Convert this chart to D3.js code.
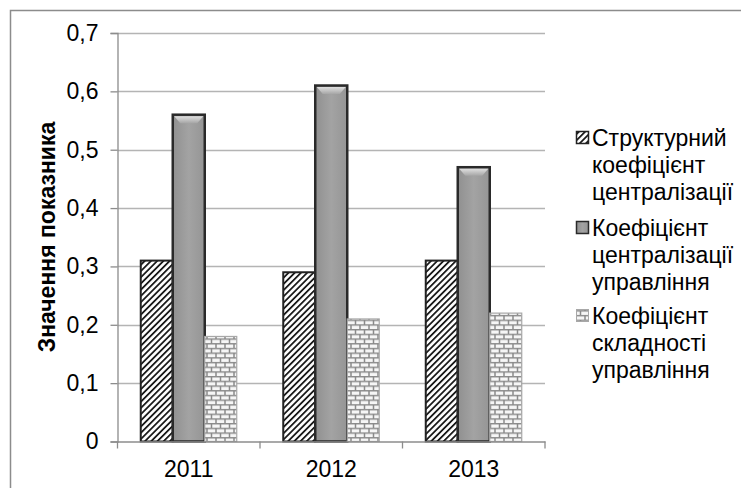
<!DOCTYPE html>
<html><head><meta charset="utf-8">
<script src="https://cdn.jsdelivr.net/npm/d3@7"></script>
<style>
html,body{margin:0;padding:0;background:#fff;}
svg{display:block;font-family:"Liberation Sans",Arial,sans-serif;}
</style></head>
<body>
<svg id="chart" width="741" height="488"></svg>
<script>
const categories = ["2011", "2012", "2013"];
const seriesNames = [
  ["Структурний", "коефіцієнт", "централізації"],
  ["Коефіцієнт", "централізації", "управління"],
  ["Коефіцієнт", "складності", "управління"]
];
const structuralCoef = [0.31, 0.29, 0.31];
const centralizationCoef = [0.56, 0.61, 0.47];
const complexityCoef = [0.18, 0.21, 0.22];
const yTicks = [0, 0.1, 0.2, 0.3, 0.4, 0.5, 0.6, 0.7];
const yTitle = "Значення показника";

(function () {
const FS = 23;
const series = [structuralCoef, centralizationCoef, complexityCoef];
const svg = d3.select("#chart");
const defs = svg.append("defs");

// hatch pattern
const hatch = defs.append("pattern").attr("id","hatch").attr("patternUnits","userSpaceOnUse")
  .attr("width",4.4).attr("height",4.4).attr("patternTransform","rotate(45)");
hatch.append("rect").attr("width",4.4).attr("height",4.4).attr("fill","#fff");
hatch.append("rect").attr("x",0).attr("y",0).attr("width",1.8).attr("height",4.4).attr("fill","#1a1a1a");

// gray fill gradient
const grad = defs.append("linearGradient").attr("id","grayfill").attr("x1",0).attr("x2",1).attr("y1",0).attr("y2",0);
grad.append("stop").attr("offset","0%").attr("stop-color","#909090");
grad.append("stop").attr("offset","50%").attr("stop-color","#a3a3a3");
grad.append("stop").attr("offset","100%").attr("stop-color","#959595");
const bevel = defs.append("linearGradient").attr("id","bevel").attr("x1",0).attr("x2",0).attr("y1",0).attr("y2",1);
bevel.append("stop").attr("offset","0%").attr("stop-color","#e0e0e0");
bevel.append("stop").attr("offset","100%").attr("stop-color","#a6a6a6");

// brick pattern
const brick = defs.append("pattern").attr("id","brick").attr("patternUnits","userSpaceOnUse")
  .attr("width",9).attr("height",9.4);
brick.append("rect").attr("width",9).attr("height",9.4).attr("fill","#f6f6f6");
brick.append("path").attr("d","M0,0.75H9 M0,5.45H9 M4.5,0V4.7 M0,4.7V9.4 M9,4.7V9.4")
  .attr("stroke","#8a8a8a").attr("stroke-width",1.5).attr("fill","none");

const fills = ["url(#hatch)", "url(#grayfill)", "url(#brick)"];
const strokes = ["#222", "#2a2a2a", "#a8a8a8"];
const strokeW = [2, 2.5, 1.2];

// outer frame
svg.append("rect").attr("x",10.5).attr("y",10.5).attr("width",760).attr("height",500)
  .attr("fill","none").attr("stroke","#8c8c8c").attr("stroke-width",1.5);

const pLeft = 117.5, pRight = 545, pTop = 33, pBottom = 441.5;
const x = d3.scaleBand().domain(categories).range([pLeft, pRight]).paddingInner(0).paddingOuter(0);
const xs = d3.scaleBand().domain([0,1,2]).range([0, 96]);
const groupOffset = (x.bandwidth() - 96) / 2;
const y = d3.scaleLinear().domain([0, 0.7]).range([pBottom, pTop]);

// gridlines
svg.append("g").selectAll("line").data(yTicks.filter(d => d > 0)).join("line")
  .attr("x1", pLeft).attr("x2", pRight).attr("y1", d => Math.round(y(d)) + 0.5).attr("y2", d => Math.round(y(d)) + 0.5)
  .attr("stroke","#b4b4b4").attr("stroke-width",1.3);

// y axis
const yAxis = d3.axisLeft(y).tickValues(yTicks).tickSize(7).tickPadding(12)
  .tickFormat(d => d3.format(".1f")(d).replace(".", ",").replace(/^0,0$/, "0"));
const gy = svg.append("g").attr("transform", `translate(${pLeft},0)`).call(yAxis);
gy.select(".domain").attr("stroke","#8c8c8c").attr("stroke-width",1.3);
gy.selectAll(".tick line").attr("stroke","#8c8c8c").attr("stroke-width",1.3);
gy.selectAll(".tick text").attr("font-size",FS).attr("fill","#000").attr("font-family","Liberation Sans, Arial, sans-serif");

// bars
series.forEach((vals, si) => {
  const g = svg.append("g");
  g.selectAll("rect").data(vals).join("rect")
    .attr("x", (d,i) => x(categories[i]) + groupOffset + xs(si))
    .attr("y", d => y(d))
    .attr("width", xs.bandwidth())
    .attr("height", d => y(0) - y(d))
    .attr("fill", fills[si]).attr("stroke", strokes[si]).attr("stroke-width", strokeW[si]);
  if (si === 1) {
    g.selectAll("path.bev").data(vals).join("path").attr("class","bev")
      .attr("d", (d,i) => {
        const x0 = x(categories[i]) + groupOffset + xs(si) + 1.5, w = xs.bandwidth() - 3, y0 = y(d) + 1.5;
        return `M${x0},${y0}H${x0+w}L${x0+w-6},${y0+7}H${x0+6}Z`;
      })
      .attr("fill","url(#bevel)");
  }
});

// x axis
const xAxis = d3.axisBottom(x).tickSize(0).tickPadding(19);
const gx = svg.append("g").attr("transform", `translate(0,${pBottom})`).call(xAxis);
gx.select(".domain").attr("stroke","#8c8c8c").attr("stroke-width",1.3);
gx.selectAll(".tick text").attr("font-size",FS).attr("fill","#000").attr("font-family","Liberation Sans, Arial, sans-serif");
const bounds = categories.map(c => x(c)).concat([pRight]);
gx.append("g").selectAll("line").data(bounds).join("line")
  .attr("x1", d => d).attr("x2", d => d).attr("y1", 0).attr("y2", 7)
  .attr("stroke","#8c8c8c").attr("stroke-width",1.3);

// y title
svg.append("text").attr("transform","translate(55,237) rotate(-90)")
  .attr("text-anchor","middle").attr("font-size",FS).attr("font-weight","bold").attr("fill","#000")
  .text(yTitle);

// legend
const legendTop = [138, 228, 316];
const lineH = 27;
seriesNames.forEach((lines, si) => {
  const g = svg.append("g");
  g.append("rect").attr("x", 576.5).attr("y", legendTop[si] - 6.5).attr("width", 12).attr("height", 12)
    .attr("fill", fills[si]).attr("stroke", strokes[si]).attr("stroke-width", si === 2 ? 1 : 1.5);
  const t = g.append("text").attr("font-size", FS).attr("fill","#000");
  lines.forEach((ln, li) => {
    t.append("tspan").attr("x", 592).attr("y", legendTop[si] + li * lineH).attr("dy","0.35em").text(ln);
  });
});
})();
</script>
</body></html>
